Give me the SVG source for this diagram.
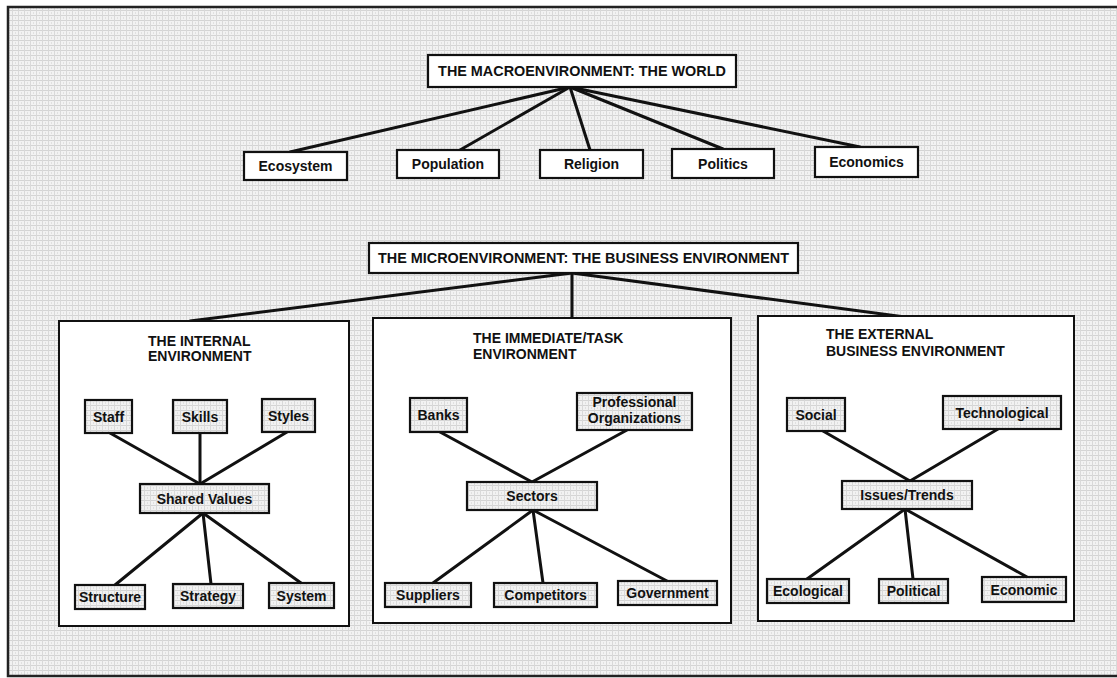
<svg xmlns="http://www.w3.org/2000/svg" width="1117" height="678" viewBox="0 0 1117 678">
<defs>
<pattern id="tex" width="6" height="5" patternUnits="userSpaceOnUse">
<rect width="6" height="5" fill="#f2f2f2"/>
<rect x="0" y="0" width="6" height="1" fill="#d4d4d4"/>
<rect x="0" y="0" width="1" height="5" fill="#d9d9d9"/>
<rect x="3" y="2" width="1" height="2" fill="#e0e0e0"/>
</pattern>
<style>
.lbl{font-family:"Liberation Sans",Arial,sans-serif;font-weight:bold;font-size:14px;fill:#111;text-anchor:middle}
.hdr{font-family:"Liberation Sans",Arial,sans-serif;font-weight:bold;font-size:14.4px;fill:#111;text-anchor:middle}
.ttl{font-family:"Liberation Sans",Arial,sans-serif;font-weight:bold;font-size:14px;fill:#111;text-anchor:start}
.wb{fill:#fff;stroke:#111;stroke-width:2.2}
.tb{fill:url(#tex);stroke:#111;stroke-width:2.2}
.pnl{fill:#fff;stroke:#111;stroke-width:2}
.con line{stroke:#111;stroke-width:3;stroke-linecap:round}
</style>
</defs>
<rect width="1117" height="678" fill="#fff"/>
<rect x="8" y="7" width="1109" height="669" fill="url(#tex)"/>
<path d="M1117 7 H8 V676 H1117" fill="none" stroke="#222" stroke-width="2.5"/>

<g id="connectors" class="con">
<line x1="570" y1="87" x2="290" y2="152"/>
<line x1="570" y1="87" x2="460" y2="150"/>
<line x1="570" y1="87" x2="590" y2="150"/>
<line x1="570" y1="87" x2="723" y2="149"/>
<line x1="570" y1="87" x2="860" y2="147"/>
<line x1="572" y1="273" x2="190" y2="321"/>
<line x1="572" y1="273" x2="572" y2="318"/>
<line x1="572" y1="273" x2="905" y2="317"/>
</g>

<g id="macro"><rect class="wb" x="428" y="55" width="308" height="32"/><text class="hdr" x="582" y="76">THE MACROENVIRONMENT: THE WORLD</text></g>
<g id="ecosystem"><rect class="wb" x="244" y="152" width="103" height="28"/><text class="lbl" x="295.5" y="171">Ecosystem</text></g>
<g id="population"><rect class="wb" x="397" y="150" width="102" height="28"/><text class="lbl" x="448" y="169">Population</text></g>
<g id="religion"><rect class="wb" x="540" y="150" width="103" height="28"/><text class="lbl" x="591.5" y="169">Religion</text></g>
<g id="politics"><rect class="wb" x="672" y="149" width="102" height="29"/><text class="lbl" x="723" y="168.5">Politics</text></g>
<g id="economics"><rect class="wb" x="815" y="147" width="103" height="30"/><text class="lbl" x="866.5" y="167">Economics</text></g>

<g id="micro"><rect class="wb" x="369" y="243" width="429" height="30"/><text class="hdr" x="583.5" y="263">THE MICROENVIRONMENT: THE BUSINESS ENVIRONMENT</text></g>

<g id="internal">
<rect class="pnl" x="59" y="321" width="290" height="305"/>
<text class="ttl" x="148" y="346">THE INTERNAL</text>
<text class="ttl" x="148" y="361">ENVIRONMENT</text>
<g class="con">
<line x1="110" y1="433" x2="200" y2="484"/>
<line x1="200" y1="433" x2="200" y2="484"/>
<line x1="287" y1="432" x2="200" y2="484"/>
<line x1="203" y1="513" x2="115" y2="585"/>
<line x1="203" y1="513" x2="211" y2="584"/>
<line x1="203" y1="513" x2="301" y2="583"/>
</g>
<g id="staff"><rect class="tb" x="85" y="400" width="47" height="33"/><text class="lbl" x="108.5" y="421.5">Staff</text></g>
<g id="skills"><rect class="tb" x="173" y="400" width="54" height="33"/><text class="lbl" x="200" y="421.5">Skills</text></g>
<g id="styles"><rect class="tb" x="262" y="399" width="53" height="33"/><text class="lbl" x="288.5" y="420.5">Styles</text></g>
<g id="shared-values"><rect class="tb" x="140" y="484" width="129" height="29"/><text class="lbl" x="204.5" y="503.5">Shared Values</text></g>
<g id="structure"><rect class="tb" x="75" y="585" width="70" height="24"/><text class="lbl" x="110" y="602">Structure</text></g>
<g id="strategy"><rect class="tb" x="173" y="584" width="70" height="24"/><text class="lbl" x="208" y="601">Strategy</text></g>
<g id="system"><rect class="tb" x="269" y="583" width="65" height="25"/><text class="lbl" x="301.5" y="600.5">System</text></g>
</g>

<g id="immediate">
<rect class="pnl" x="373" y="318" width="358" height="305"/>
<text class="ttl" x="473" y="343">THE IMMEDIATE/TASK</text>
<text class="ttl" x="473" y="359">ENVIRONMENT</text>
<g class="con">
<line x1="440" y1="432" x2="532" y2="482"/>
<line x1="627" y1="430" x2="532" y2="482"/>
<line x1="533" y1="510" x2="433" y2="583"/>
<line x1="533" y1="510" x2="543" y2="583"/>
<line x1="533" y1="510" x2="667" y2="581"/>
</g>
<g id="banks"><rect class="tb" x="410" y="398" width="57" height="34"/><text class="lbl" x="438.5" y="420">Banks</text></g>
<g id="professional-organizations"><rect class="tb" x="577" y="393" width="115" height="37"/><text class="lbl" x="634.5" y="407">Professional</text><text class="lbl" x="634.5" y="423">Organizations</text></g>
<g id="sectors"><rect class="tb" x="467" y="482" width="130" height="28"/><text class="lbl" x="532" y="501">Sectors</text></g>
<g id="suppliers"><rect class="tb" x="385" y="583" width="86" height="24"/><text class="lbl" x="428" y="600">Suppliers</text></g>
<g id="competitors"><rect class="tb" x="494" y="583" width="103" height="24"/><text class="lbl" x="545.5" y="600">Competitors</text></g>
<g id="government"><rect class="tb" x="618" y="581" width="99" height="24"/><text class="lbl" x="667.5" y="598">Government</text></g>
</g>

<g id="external">
<rect class="pnl" x="758" y="316" width="316" height="305"/>
<text class="ttl" x="826" y="339">THE EXTERNAL</text>
<text class="ttl" x="826" y="356">BUSINESS ENVIRONMENT</text>
<g class="con">
<line x1="823" y1="431" x2="910" y2="481"/>
<line x1="998" y1="429" x2="910" y2="481"/>
<line x1="905" y1="509" x2="807" y2="579"/>
<line x1="905" y1="509" x2="913" y2="579"/>
<line x1="905" y1="509" x2="1027" y2="577"/>
</g>
<g id="social"><rect class="tb" x="787" y="398" width="58" height="33"/><text class="lbl" x="816" y="419.5">Social</text></g>
<g id="technological"><rect class="tb" x="943" y="396" width="118" height="33"/><text class="lbl" x="1002" y="417.5">Technological</text></g>
<g id="issues-trends"><rect class="tb" x="842" y="481" width="130" height="28"/><text class="lbl" x="907" y="500">Issues/Trends</text></g>
<g id="ecological"><rect class="tb" x="767" y="579" width="82" height="24"/><text class="lbl" x="808" y="596">Ecological</text></g>
<g id="political"><rect class="tb" x="879" y="579" width="69" height="24"/><text class="lbl" x="913.5" y="596">Political</text></g>
<g id="economic"><rect class="tb" x="982" y="577" width="84" height="25"/><text class="lbl" x="1024" y="594.5">Economic</text></g>
</g>
</svg>
